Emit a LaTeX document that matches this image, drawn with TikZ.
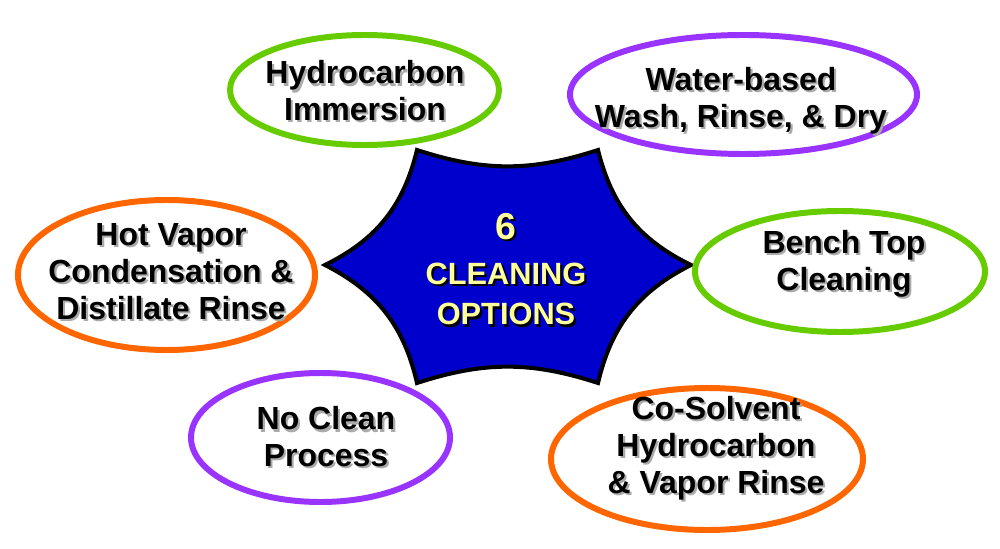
\documentclass[tikz,border=0pt]{standalone}
\usepackage{fontspec}
\setmainfont{Liberation Sans}
\usepackage{xcolor}
\usetikzlibrary{shapes.geometric}
\definecolor{optgreen}{RGB}{102,204,0}
\definecolor{optpurple}{RGB}{153,51,255}
\definecolor{optorange}{RGB}{255,102,0}
\definecolor{starblue}{RGB}{0,0,204}
\definecolor{staryellow}{RGB}{255,255,153}
\definecolor{shadegray}{RGB}{170,170,170}
\newcommand{\shd}[2][shadegray]{\leavevmode\rlap{\hspace{1.2pt}\raisebox{-1.2pt}{\textcolor{#1}{#2}}}#2}
\tikzset{
	option/.style = {ellipse, draw = #1, line width = 3.4pt, fill = white, inner sep = 0pt},
	optlabel/.style = {align = center, inner sep = 0pt, font = \fontsize{18.2}{21}\selectfont\bfseries},
	starlabel/.style = {align = center, inner sep = 0pt, text = staryellow, font = \fontsize{17.5}{22.8}\selectfont\bfseries},
}

\begin{document}
\begin{tikzpicture}
			\useasboundingbox (0,0) rectangle (20,10.96);
			
			\coordinate (sl) at (6.5,5.66);
			\coordinate (stl) at (8.34,7.96);
			\coordinate (str) at (11.96,7.96);
			\coordinate (sr) at (13.82,5.66);
			\coordinate (sbr) at (11.96,3.3);
			\coordinate (sbl) at (8.34,3.3);
			\draw[fill = starblue, line width = 2.3pt] (sl) to[bend right = 25] (stl) to[bend right = 18] (str) to[bend right = 25] (sr) to[bend right = 25] (sbr) to[bend right = 18] (sbl) to[bend right = 25] (sl) -- cycle;
			\node[starlabel] (core) at (10.12,5.55) {{\fontsize{21.3}{24}\selectfont\shd[black]{6}}\\[2.8pt] \shd[black]{CLEANING}\\ \shd[black]{OPTIONS}};
			
			\node[option = optgreen, minimum width = 5.38cm, minimum height = 2.2cm] (hyd) at (7.29,9.16) {};
			\node[optlabel] (hydtext) at (7.3,9.12) {\shd{Hydrocarbon}\\ \shd{Immersion}};
			
			\node[option = optpurple, minimum width = 6.94cm, minimum height = 2.38cm] (water) at (14.87,9.07) {};
			\node[optlabel] (watertext) at (14.82,8.93) {\shd{Water-based}\\ \shd{Wash, Rinse, \& Dry}};
			
			\node[option = optgreen, minimum width = 5.8cm, minimum height = 2.42cm] (bench) at (16.8,5.53) {};
			\node[optlabel] (benchtext) at (16.88,5.66) {\shd{Bench Top}\\ \shd{Cleaning}};
			
			\node[option = optorange, minimum width = 5.94cm, minimum height = 3cm] (vapor) at (3.33,5.46) {};
			\node[optlabel] (vaportext) at (3.42,5.5) {\shd{Hot Vapor}\\ \shd{Condensation \&}\\ \shd{Distillate Rinse}};
			
			\node[option = optpurple, minimum width = 5.18cm, minimum height = 2.58cm] (noclean) at (6.41,2.21) {};
			\node[optlabel] (nocleantext) at (6.52,2.2) {\shd{No Clean}\\ \shd{Process}};
			
			\node[option = optorange, minimum width = 6.24cm, minimum height = 2.84cm] (cosolv) at (14.14,1.78) {};
			\node[optlabel] (cosolvtext) at (14.32,1.98) {\shd{Co-Solvent}\\ \shd{Hydrocarbon}\\ \shd{\& Vapor Rinse}};
		\end{tikzpicture}
\end{document}
